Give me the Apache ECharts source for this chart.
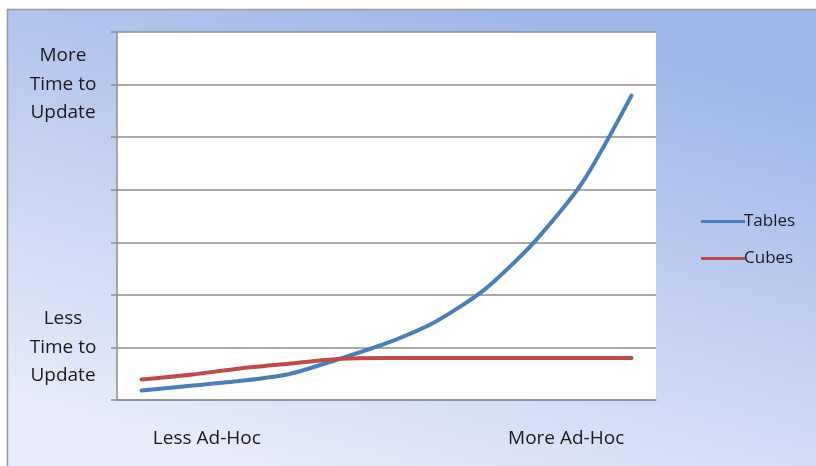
<!DOCTYPE html>
<html>
<head>
<meta charset="utf-8">
<script src="https://cdn.jsdelivr.net/npm/echarts@6/dist/echarts.min.js"></script>
<style>
html,body{margin:0;padding:0;background:#fff;}
#c{width:816px;height:466px;}
</style>
</head>
<body>
<div id="c"></div>
<script>
var categories = ['1','2','3','4','5','6','7','8','9','10','11'];
var tables = [0.18, 0.27, 0.36, 0.49, 0.77, 1.08, 1.49, 2.10, 2.99, 4.14, 5.79];
var cubes = [0.39, 0.48, 0.60, 0.69, 0.78, 0.80, 0.80, 0.80, 0.80, 0.80, 0.80];
var xLabels = ['Less Ad-Hoc', '', 'More Ad-Hoc'];
var yLabels = {1: 'Less\nTime to\nUpdate', 6: 'More\nTime to\nUpdate'};

var chart = echarts.init(document.getElementById('c'), null, {renderer: 'canvas'});
var font = '"Open Sans", "Noto Sans", sans-serif';
chart.setOption({
  animation: false,
  backgroundColor: '#ffffff',
  textStyle: {fontFamily: font},
  graphic: [{
    type: 'rect', z: -10, silent: true,
    shape: {x: 7.5, y: 9.5, width: 830, height: 480},
    style: {
      fill: new echarts.graphic.LinearGradient(0.42, 1, 0.58, 0, [
        {offset: 0, color: '#e7ebfa'},
        {offset: 1, color: '#9fb7e8'}
      ]),
      stroke: '#9a9a9a', lineWidth: 1.5
    }
  }],
  grid: {left: 117, right: 160, top: 32, bottom: 66, show: true, backgroundColor: '#ffffff', borderWidth: 0},
  legend: {
    orient: 'vertical', left: 696, top: 208, itemGap: 20,
    itemWidth: 44, itemHeight: 3,
    icon: 'rect',
    textStyle: {fontFamily: font, fontSize: 17, color: '#1a1a1a', padding: [0,0,0,-6]},
    data: ['Tables', 'Cubes']
  },
  xAxis: [{
    type: 'category', data: categories, boundaryGap: true,
    axisLine: {lineStyle: {color: '#8c8c8c', width: 1.5}},
    axisTick: {length: 6, lineStyle: {color: '#8c8c8c', width: 1.5}},
    axisLabel: {show: false}
  }, {
    type: 'category', data: xLabels, position: 'bottom', boundaryGap: true,
    axisLine: {show: false}, axisTick: {show: false},
    axisLabel: {margin: 29, fontSize: 19, color: '#1a1a1a', fontFamily: font, interval: 0}
  }],
  yAxis: {
    type: 'value', min: 0, max: 7, interval: 1,
    axisLine: {show: true, lineStyle: {color: '#8c8c8c', width: 1.5}},
    axisTick: {show: true, length: 6, lineStyle: {color: '#8c8c8c', width: 1.5}},
    splitLine: {lineStyle: {color: '#8c8c8c', width: 1.5}},
    axisLabel: {
      margin: 54, align: 'center', fontSize: 19, lineHeight: 28.5,
      color: '#1a1a1a', fontFamily: font,
      formatter: function (v) { return yLabels[v] || ''; }
    }
  },
  series: [{
    name: 'Tables', type: 'line', data: tables, smooth: 0.25,
    symbol: 'none', lineStyle: {color: '#4a7ebb', width: 4, cap: 'round'},
    itemStyle: {color: '#4a7ebb'}, xAxisIndex: 0
  }, {
    name: 'Cubes', type: 'line', data: cubes, smooth: 0.25,
    symbol: 'none', lineStyle: {color: '#be4b48', width: 4, cap: 'round'},
    itemStyle: {color: '#be4b48'}, xAxisIndex: 0
  }]
});
</script>
</body>
</html>
